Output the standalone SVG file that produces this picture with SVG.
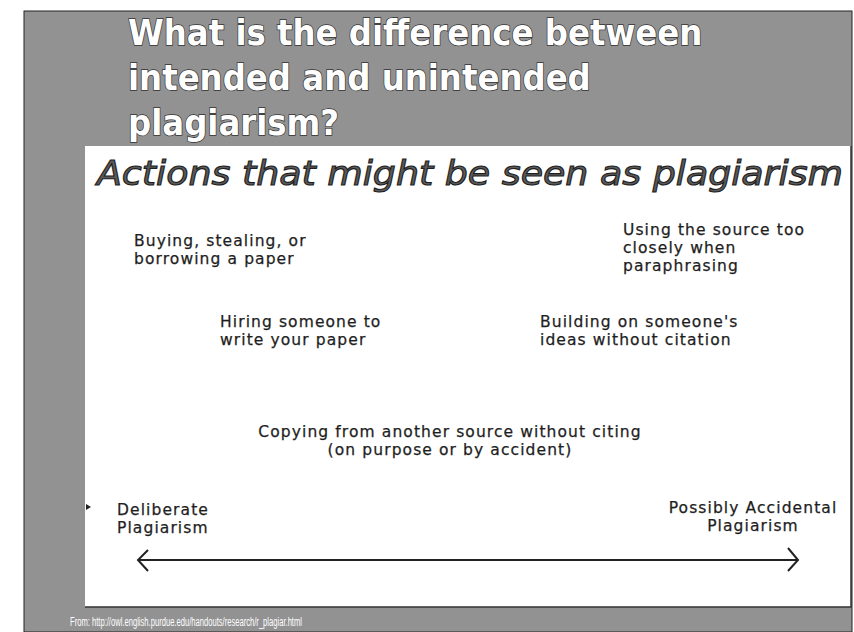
<svg xmlns="http://www.w3.org/2000/svg" width="854" height="632" viewBox="0 0 854 632">
<style>
.title{font-family:"DejaVu Sans Condensed","DejaVu Sans",sans-serif;font-weight:bold;font-size:36px;fill:#fff;stroke:#333;stroke-width:1.4px;paint-order:stroke;}
.sub{font-family:"DejaVu Sans",sans-serif;font-style:italic;font-size:34px;fill:#5a5a5a;stroke:#1e1e1e;stroke-width:1.1px;}
.body{font-family:"DejaVu Sans",sans-serif;font-size:15.5px;letter-spacing:1.1px;fill:#1e1e1e;stroke:#1e1e1e;stroke-width:0.25px;}
.foot{font-family:"Liberation Sans",sans-serif;font-size:12px;fill:#fff;}
.arrow{fill:none;stroke:#222;stroke-width:2;}
</style>
<rect x="0" y="0" width="854" height="632" fill="#fff"/>
<rect id="frame" x="24" y="11" width="828" height="621" fill="#929292" stroke="#222" stroke-width="1"/>
<rect id="panel" x="85" y="146" width="766" height="461" fill="#fff"/>
<path d="M85,607 H851 V146" fill="none" stroke="#333" stroke-width="1.5"/>
<g id="title">
<text class="title" x="128" y="45">What is the difference between</text>
<text class="title" x="128" y="90">intended and unintended</text>
<text class="title" x="128" y="135">plagiarism?</text>
</g>
<g id="subtitle">
<text class="sub" x="97" y="185" textLength="746" lengthAdjust="spacingAndGlyphs">Actions that might be seen as plagiarism</text>
</g>
<g id="buying">
<text class="body" x="134" y="246">Buying, stealing, or</text>
<text class="body" x="134" y="264">borrowing a paper</text>
</g>
<g id="using">
<text class="body" x="623" y="235">Using the source too</text>
<text class="body" x="623" y="253">closely when</text>
<text class="body" x="623" y="271">paraphrasing</text>
</g>
<g id="hiring">
<text class="body" x="220" y="327">Hiring someone to</text>
<text class="body" x="220" y="345">write your paper</text>
</g>
<g id="building">
<text class="body" x="540" y="327">Building on someone's</text>
<text class="body" x="540" y="345">ideas without citation</text>
</g>
<g id="copying">
<text class="body" x="450" y="437" text-anchor="middle">Copying from another source without citing</text>
<text class="body" x="450" y="455" text-anchor="middle">(on purpose or by accident)</text>
</g>
<g id="deliberate">
<text class="body" x="117" y="515">Deliberate</text>
<text class="body" x="117" y="533">Plagiarism</text>
</g>
<g id="accidental">
<text class="body" x="753" y="513" text-anchor="middle">Possibly Accidental</text>
<text class="body" x="753" y="531" text-anchor="middle">Plagiarism</text>
</g>
<g id="connectors">
<path class="arrow" d="M138,560 H798"/>
<path class="arrow" d="M148,550 L138,560 L148,571"/>
<path class="arrow" d="M788,548 L798,560 L788,571"/>
</g>
<path d="M86,504 L91,507 L86,510 Z" fill="#222"/>
<g id="footer">
<text class="foot" x="70" y="626" textLength="232" lengthAdjust="spacingAndGlyphs">From:  http://owl.english.purdue.edu/handouts/research/r_plagiar.html</text>
</g>
</svg>
